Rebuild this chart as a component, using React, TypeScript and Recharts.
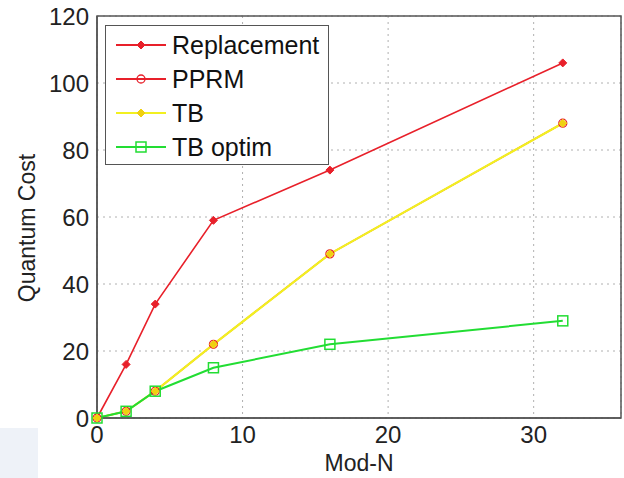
import { CartesianGrid, Line, LineChart, ReferenceArea, XAxis, YAxis } from "recharts";

const modN = [0, 2, 4, 8, 16, 32];
const replacement = [0, 16, 34, 59, 74, 106];
const pprm = [0, 2, 8, 22, 49, 88];
const tb = [0, 2, 8, 22, 49, 88];
const tbOptim = [0, 2, 8, 15, 22, 29];

const xTicks = [0, 10, 20, 30];
const yTicks = [0, 20, 40, 60, 80, 100, 120];

const RED = "#e8202a";
const YELLOW = "#f2f020";
const GREEN = "#22dd33";
const FONT = "'Liberation Sans', Arial, sans-serif";

const data = modN.map((n, i) => ({
  n,
  replacement: replacement[i],
  pprm: pprm[i],
  tb: tb[i],
  tbOptim: tbOptim[i],
}));

function Diamond({ cx, cy, color, size }: { cx: number; cy: number; color: string; size: number }) {
  return <path d={`M${cx} ${cy - size}L${cx + size} ${cy}L${cx} ${cy + size}L${cx - size} ${cy}Z`} fill={color} stroke={color} />;
}

function Marker({ kind, cx, cy }: { kind: string; cx: number; cy: number }) {
  if (kind === "replacement") return <Diamond cx={cx} cy={cy} color={RED} size={4} />;
  if (kind === "pprm") return <circle cx={cx} cy={cy} r={4} fill="none" stroke={RED} strokeWidth={1.3} />;
  if (kind === "tb") return <Diamond cx={cx} cy={cy} color="#f0d010" size={4} />;
  return <rect x={cx - 5} y={cy - 5} width={10} height={10} fill="none" stroke={GREEN} strokeWidth={1.5} />;
}

const legendItems = [
  { key: "replacement", label: "Replacement", color: RED },
  { key: "pprm", label: "PPRM", color: RED },
  { key: "tb", label: "TB", color: YELLOW },
  { key: "tbOptim", label: "TB optim", color: GREEN },
];

function LegendBox() {
  return (
    <div
      style={{
        position: "absolute",
        left: 105,
        top: 25,
        width: 224,
        height: 140,
        border: "1.5px solid #555",
        background: "#fff",
        boxSizing: "border-box",
        padding: "2px 0 0 8px",
      }}
    >
      {legendItems.map((it) => (
        <div key={it.key} style={{ display: "flex", alignItems: "center", height: 34 }}>
          <svg width={54} height={20} style={{ marginRight: 4 }}>
            <line x1={2} y1={10} x2={52} y2={10} stroke={it.color} strokeWidth={1.8} />
            <Marker kind={it.key} cx={27} cy={10} />
          </svg>
          <span style={{ fontFamily: FONT, fontSize: 25, color: "#111" }}>{it.label}</span>
        </div>
      ))}
    </div>
  );
}

export default function App() {
  return (
    <div style={{ position: "absolute", left: 0, top: 0, width: 624, height: 478, background: "#fff" }}>
      <div style={{ position: "absolute", left: 0, top: 428, width: 38, height: 50, background: "#eef2f8" }} />
      <LineChart
        width={624}
        height={478}
        data={data}
        margin={{ top: 16, right: 3, bottom: 0, left: 0 }}
        style={{ fontFamily: FONT }}
      >
        <CartesianGrid stroke="#b0b0b0" strokeDasharray="2 4" />
        <XAxis
          dataKey="n"
          type="number"
          domain={[0, 36]}
          ticks={xTicks}
          height={60}
          tickLine={false}
          axisLine={{ stroke: "#555", strokeWidth: 1.5 }}
          tick={{ fill: "#222", fontSize: 24 }}
          label={{
            content: () => (
              <text x={359} y={471} textAnchor="middle" fontSize={23} fill="#222" fontFamily={FONT}>
                Mod-N
              </text>
            ),
          }}
        />
        <YAxis
          type="number"
          domain={[0, 120]}
          ticks={yTicks}
          width={97}
          tickLine={false}
          axisLine={{ stroke: "#555", strokeWidth: 1.5 }}
          tick={{ fill: "#222", fontSize: 24 }}
          label={{
            content: () => (
              <text
                x={0}
                y={0}
                transform="translate(35 228) rotate(-90)"
                textAnchor="middle"
                fontSize={23}
                fill="#222"
                fontFamily={FONT}
              >
                Quantum Cost
              </text>
            ),
          }}
        />
        <ReferenceArea x1={0} x2={36} y1={0} y2={120} fill="none" stroke="#555" strokeWidth={1.5} />
        <Line
          dataKey="replacement"
          stroke={RED}
          strokeWidth={1.6}
          isAnimationActive={false}
          dot={(p: any) => <Marker key={`r${p.index}`} kind="replacement" cx={p.cx} cy={p.cy} />}
        />
        <Line
          dataKey="pprm"
          stroke={RED}
          strokeWidth={1.6}
          isAnimationActive={false}
          dot={(p: any) => <Marker key={`p${p.index}`} kind="pprm" cx={p.cx} cy={p.cy} />}
        />
        <Line
          dataKey="tb"
          stroke={YELLOW}
          strokeWidth={2.2}
          isAnimationActive={false}
          dot={(p: any) => <Marker key={`t${p.index}`} kind="tb" cx={p.cx} cy={p.cy} />}
        />
        <Line
          dataKey="tbOptim"
          stroke={GREEN}
          strokeWidth={2}
          isAnimationActive={false}
          dot={(p: any) => <Marker key={`g${p.index}`} kind="tbOptim" cx={p.cx} cy={p.cy} />}
        />
      </LineChart>
      <LegendBox />
    </div>
  );
}
